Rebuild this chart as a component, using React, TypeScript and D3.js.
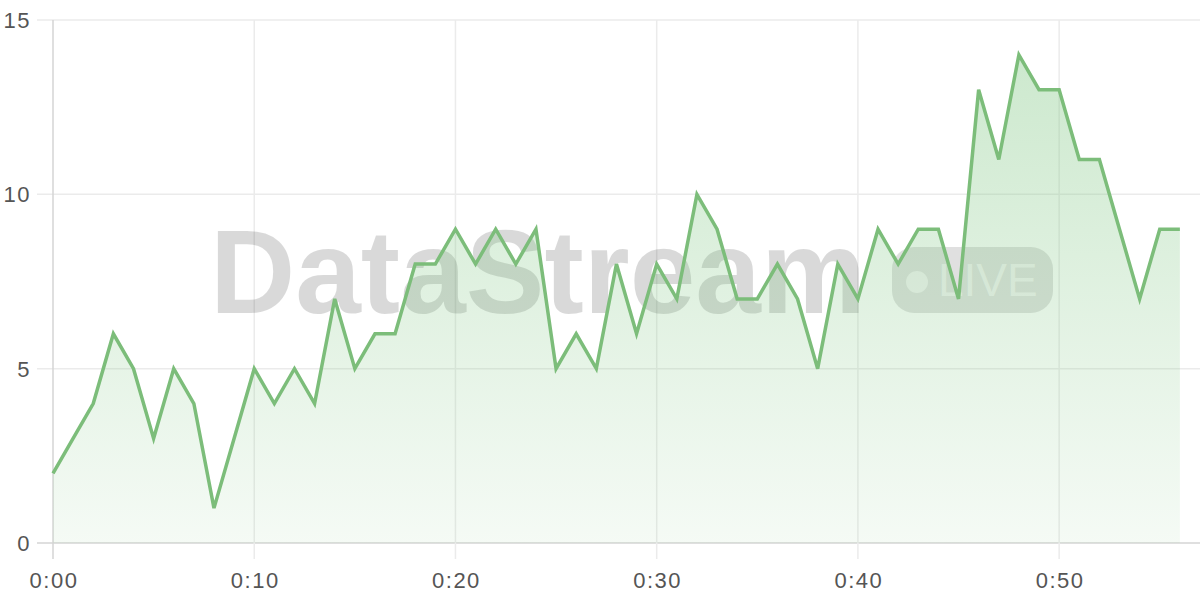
import React from "react";
import * as d3 from "d3";

const minutes: number[] = Array.from({ length: 57 }, (_, i) => i);
const values: number[] = [
  2, 3, 4, 6, 5, 3, 5, 4, 1, 3,
  5, 4, 5, 4, 7, 5, 6, 6, 8, 8,
  9, 8, 9, 8, 9, 5, 6, 5, 8, 6,
  8, 7, 10, 9, 7, 7, 8, 7, 5, 8,
  7, 9, 8, 9, 9, 7, 13, 11, 14, 13,
  13, 11, 11, 9, 7, 9, 9,
];
const xTicks: number[] = [0, 10, 20, 30, 40, 50];
const yTicks: number[] = [0, 5, 10, 15];
const watermarkText = "DataStream";
const badgeText = "LIVE";

const W = 1200;
const H = 600;

export default function App() {
  const x = d3.scaleLinear().domain([0, 57]).range([53, 1200]);
  const y = d3.scaleLinear().domain([0, 15]).range([543, 20]);
  const data = minutes.map((m, i) => ({ m, v: values[i] }));
  const line = d3
    .line<{ m: number; v: number }>()
    .x((d) => x(d.m))
    .y((d) => y(d.v));
  const area = d3
    .area<{ m: number; v: number }>()
    .x((d) => x(d.m))
    .y0(y(0))
    .y1((d) => y(d.v));
  const fmt = (m: number) => `${Math.floor(m / 60)}:${String(m % 60).padStart(2, "0")}`;
  const font = "'Liberation Sans', Arial, sans-serif";

  return (
    <svg
      width={W}
      height={H}
      style={{ position: "fixed", left: 0, top: 0, background: "#fff" }}
    >
      <defs>
        <linearGradient id="fillGrad" x1="0" y1="0" x2="0" y2="1">
          <stop offset="0%" stopColor="#81c784" stopOpacity={0.4} />
          <stop offset="100%" stopColor="#81c784" stopOpacity={0.08} />
        </linearGradient>
      </defs>
      {/* grid */}
      <g>
        {yTicks.map((t) => (
          <line
            key={"gy" + t}
            x1={37}
            x2={W}
            y1={y(t)}
            y2={y(t)}
            stroke={t === 0 ? "#d4d4d4" : "#ebebeb"}
            strokeWidth={1.5}
          />
        ))}
        {xTicks.map((t) => (
          <line
            key={"gx" + t}
            x1={x(t)}
            x2={x(t)}
            y1={y(15)}
            y2={y(0) + 16}
            stroke={t === 0 ? "#d4d4d4" : "#ebebeb"}
            strokeWidth={1.5}
          />
        ))}
      </g>
      {/* watermark */}
      <g>
        <text
          x={210}
          y={313}
          fontFamily={font}
          fontWeight="bold"
          fontSize={118}
          fill="#000"
          fillOpacity={0.15}
        >
          {watermarkText}
        </text>
        <rect x={892} y={247} width={161} height={66} rx={22} fill="#000" fillOpacity={0.12} />
        <circle cx={917} cy={282} r={11} fill="#fff" fillOpacity={0.6} />
        <text
          x={938}
          y={296}
          fontFamily={font}
          fontSize={46}
          fill="#fff"
          fillOpacity={0.6}
        >
          {badgeText}
        </text>
      </g>
      <path d={area(data) || ""} fill="url(#fillGrad)" />
      <path
        d={line(data) || ""}
        fill="none"
        stroke="#7cbd7a"
        strokeWidth={3.5}
        strokeLinejoin="miter"
      />
      {/* axis labels */}
      <g fontFamily={font} fontSize={22} fill="#555" letterSpacing={1.5}>
        {yTicks.map((t) => (
          <text key={"ly" + t} x={31} y={y(t)} dy="0.36em" textAnchor="end">
            {t}
          </text>
        ))}
        {xTicks.map((t) => (
          <text key={"lx" + t} x={x(t) + 1} y={588} textAnchor="middle">
            {fmt(t)}
          </text>
        ))}
      </g>
    </svg>
  );
}
